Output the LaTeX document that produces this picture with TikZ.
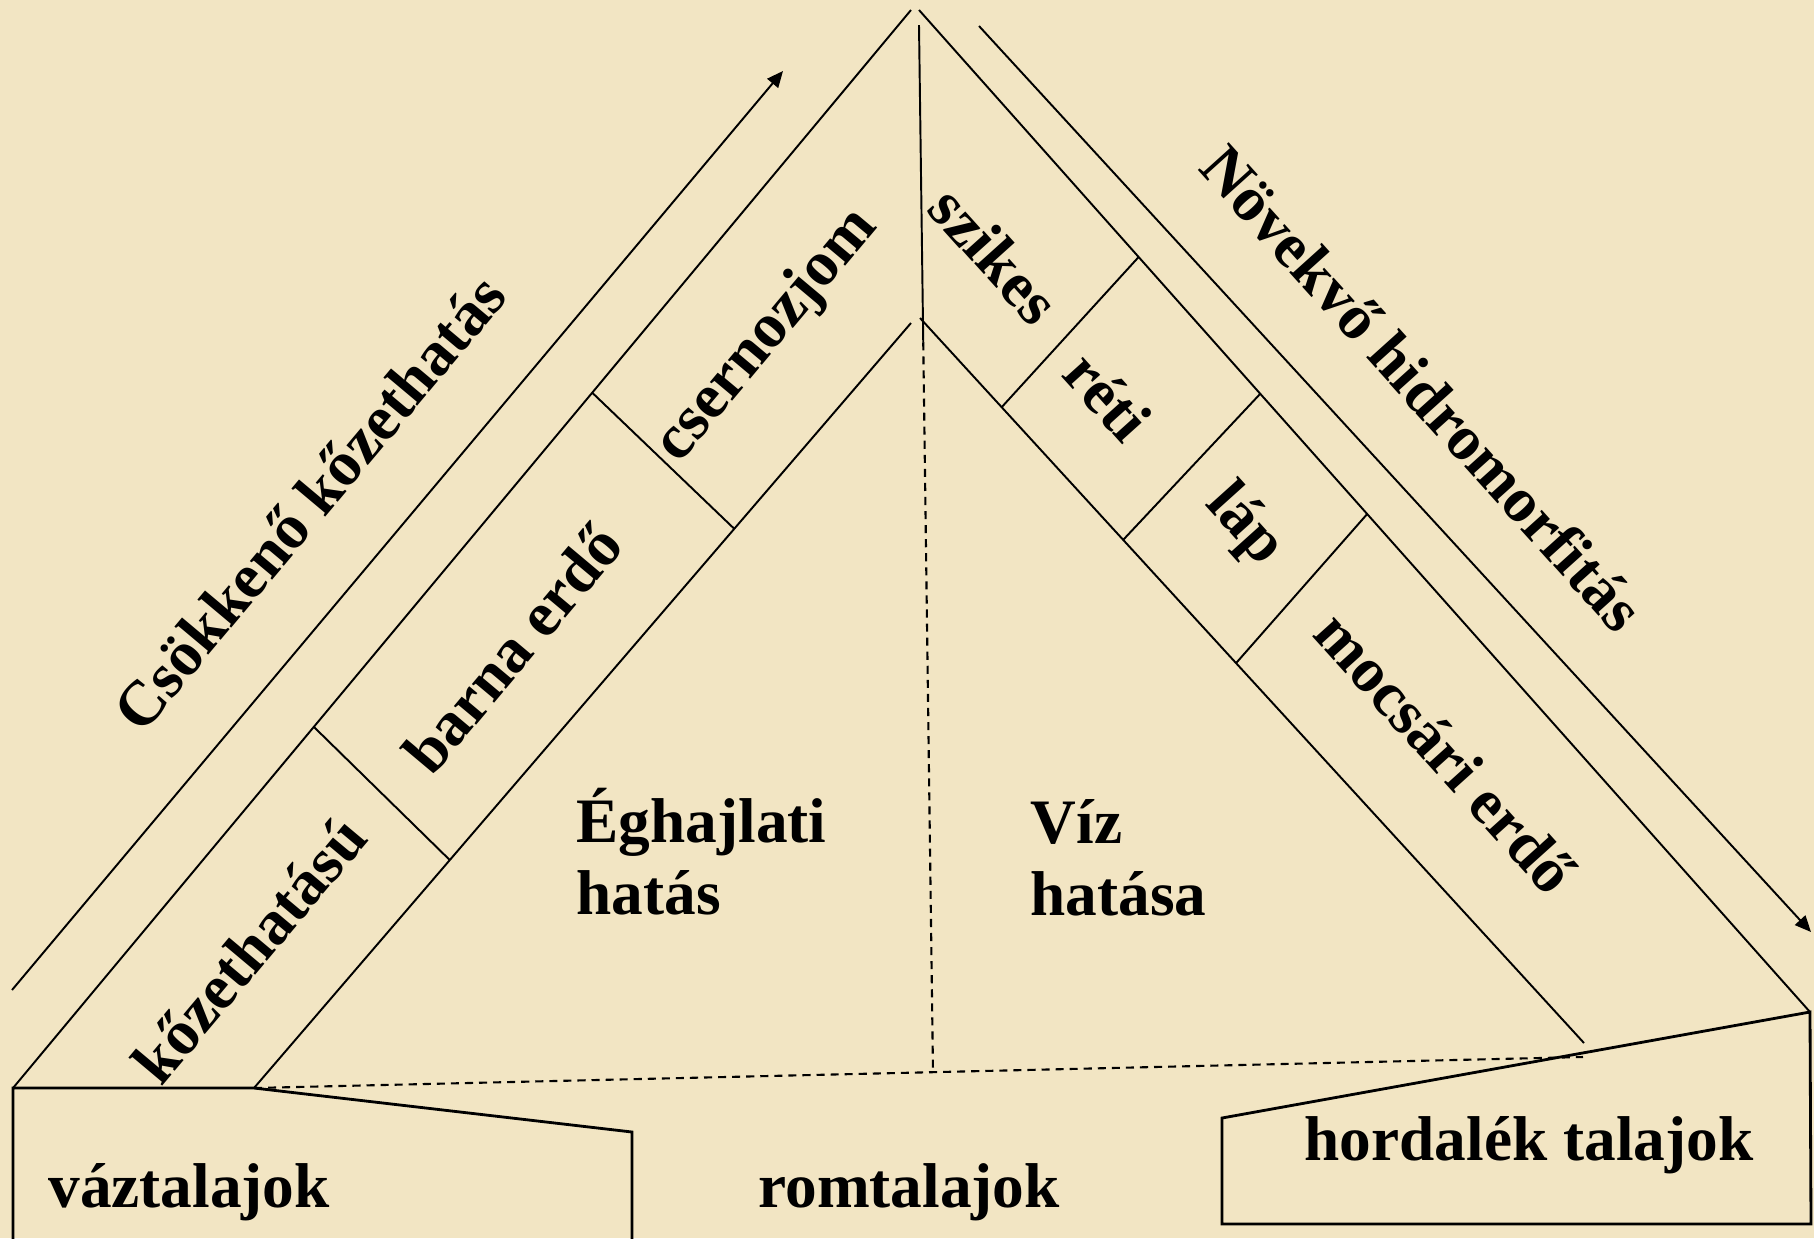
\documentclass[tikz,border=0pt]{standalone}
\usepackage{fontspec}
\setmainfont{Liberation Serif}
\usetikzlibrary{arrows.meta,calc}
\definecolor{parchment}{RGB}{242,229,195}

\begin{document}
\begin{tikzpicture}[x=0.01cm, y=-0.01cm,
  soil_line/.style={line width=0.55pt},
  box_line/.style={line width=0.8pt},
  dash_line/.style={line width=0.6pt, dash pattern=on 2.3pt off 1.7pt},
  trend/.style={line width=0.55pt, -{Triangle[length=4.6pt,width=4pt]}},
  label_up/.style={font=\fontsize{18}{20.5}\selectfont\bfseries, inner sep=0pt, rotate=50},
  label_down/.style={font=\fontsize{18}{20.5}\selectfont\bfseries, inner sep=0pt, rotate=-48},
  label_flat/.style={font=\fontsize{18}{20.5}\selectfont\bfseries, inner sep=0pt, align=left}
]

% Background
\useasboundingbox (0,0) rectangle (1814,1238);
\fill[parchment] (0,0) rectangle (1814,1238);

% Corner points of the triangle
\coordinate (apex_l) at (911,10);
\coordinate (apex_r) at (919,10);
\coordinate (foot_out_l) at (13,1088);
\coordinate (foot_in_l) at (254,1088);
\coordinate (top_in_l) at (911,323);
\coordinate (top_in_r) at (920,318);
\coordinate (foot_in_r) at (1584,1043);
\coordinate (foot_out_r) at (1810,1012);

% Outer and inner edges
\draw[soil_line] (foot_out_l) -- (apex_l);
\draw[soil_line] (apex_r) -- (foot_out_r);
\draw[soil_line] (foot_in_l) -- (top_in_l);
\draw[soil_line] (top_in_r) -- (foot_in_r);

% Dividers between the bands
\draw[soil_line] ($(foot_out_l)!0.335!(apex_l)$) -- ($(foot_in_l)!0.298!(top_in_l)$);
\draw[soil_line] ($(foot_out_l)!0.645!(apex_l)$) -- ($(foot_in_l)!0.731!(top_in_l)$);
\draw[soil_line] ($(apex_r)!0.2465!(foot_out_r)$) -- ($(top_in_r)!0.123!(foot_in_r)$);
\draw[soil_line] ($(apex_r)!0.383!(foot_out_r)$) -- ($(top_in_r)!0.306!(foot_in_r)$);
\draw[soil_line] ($(apex_r)!0.503!(foot_out_r)$) -- ($(top_in_r)!0.476!(foot_in_r)$);

% Middle axis: solid above, dashed below
\coordinate (axis_top) at (919,25);
\coordinate (axis_foot) at (933,1072);
\coordinate (axis_split) at ($(axis_top)!0.303!(axis_foot)$);
\coordinate (dash_end) at (1583,1057);
\draw[soil_line] (axis_top) -- (axis_split);
\draw[dash_line] (axis_split) -- (axis_foot);
\draw[dash_line] (foot_in_l) -- (dash_end);

% Trend arrows
\coordinate (trend_l0) at (12,990);
\coordinate (trend_l1) at (783,71);
\coordinate (trend_r0) at (979,26);
\coordinate (trend_r1) at (1811,932);
\draw[trend] (trend_l0) -- (trend_l1);
\draw[trend] (trend_r0) -- (trend_r1);

% Boxes at the feet
\draw[box_line] (13,1245) -- (foot_out_l) -- (foot_in_l) -- (632,1132) -- (632,1245);
\draw[box_line] (1222,1224) -- (1222,1118) -- (foot_out_r) -- (1811,1224) -- cycle;

% Band labels
\node[label_up] (csokk) at (309,502) {Csökkenő kőzethatás};
\node[label_up] (cserno) at (767,336) {csernozjom};
\node[label_up] (barna) at (512,648) {barna erdő};
\node[label_up] (kozet) at (249,949) {kőzethatású};
\node[label_down] (novekvo) at (1423,388) {Növekvő hidromorfitás};
\node[label_down] (szikes) at (995,255) {szikes};
\node[label_down] (reti) at (1108,396) {réti};
\node[label_down] (lap) at (1244,526) {láp};
\node[label_down] (mocsari) at (1446,752) {mocsári erdő};

% Inner labels
\node[label_flat, anchor=north west] (eghajlat) at (576,787) {Éghajlati\\hatás};
\node[label_flat, anchor=north west] (viz) at (1030,799) {Víz\\hatása};

% Box labels
\node[label_flat, anchor=base] (vaz) at (189,1207) {váztalajok};
\node[label_flat, anchor=base] (rom) at (909,1207) {romtalajok};
\node[label_flat, anchor=base] (hord) at (1529,1160) {hordalék talajok};

\end{tikzpicture}
\end{document}
